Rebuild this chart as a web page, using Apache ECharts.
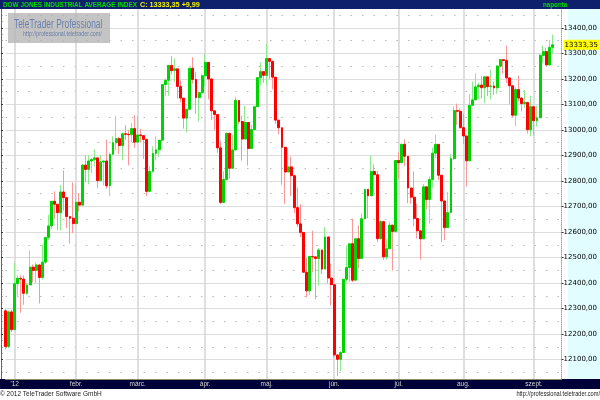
<!DOCTYPE html>
<html><head><meta charset="utf-8">
<script src="https://cdn.jsdelivr.net/npm/echarts@6/dist/echarts.min.js"></script>
<style>html,body{margin:0;padding:0;background:#fff}#c{width:600px;height:400px}</style>
</head><body><div id="c"></div>
<script>
const dates = [
'2011-12-28','2011-12-29','2011-12-30',
'2012-01-03','2012-01-04','2012-01-05','2012-01-06','2012-01-09','2012-01-10','2012-01-11','2012-01-12','2012-01-13','2012-01-17','2012-01-18','2012-01-19','2012-01-20','2012-01-23','2012-01-24','2012-01-25','2012-01-26','2012-01-27','2012-01-30','2012-01-31',
'2012-02-01','2012-02-02','2012-02-03','2012-02-06','2012-02-07','2012-02-08','2012-02-09','2012-02-10','2012-02-13','2012-02-14','2012-02-15','2012-02-16','2012-02-17','2012-02-21','2012-02-22','2012-02-23','2012-02-24','2012-02-27','2012-02-28','2012-02-29',
'2012-03-01','2012-03-02','2012-03-05','2012-03-06','2012-03-07','2012-03-08','2012-03-09','2012-03-12','2012-03-13','2012-03-14','2012-03-15','2012-03-16','2012-03-19','2012-03-20','2012-03-21','2012-03-22','2012-03-23','2012-03-26','2012-03-27','2012-03-28','2012-03-29','2012-03-30',
'2012-04-02','2012-04-03','2012-04-04','2012-04-05','2012-04-09','2012-04-10','2012-04-11','2012-04-12','2012-04-13','2012-04-16','2012-04-17','2012-04-18','2012-04-19','2012-04-20','2012-04-23','2012-04-24','2012-04-25','2012-04-26','2012-04-27','2012-04-30',
'2012-05-01','2012-05-02','2012-05-03','2012-05-04','2012-05-07','2012-05-08','2012-05-09','2012-05-10','2012-05-11','2012-05-14','2012-05-15','2012-05-16','2012-05-17','2012-05-18','2012-05-21','2012-05-22','2012-05-23','2012-05-24','2012-05-25','2012-05-29','2012-05-30','2012-05-31',
'2012-06-01','2012-06-04','2012-06-05','2012-06-06','2012-06-07','2012-06-08','2012-06-11','2012-06-12','2012-06-13','2012-06-14','2012-06-15','2012-06-18','2012-06-19','2012-06-20','2012-06-21','2012-06-22','2012-06-25','2012-06-26','2012-06-27','2012-06-28','2012-06-29',
'2012-07-02','2012-07-03','2012-07-05','2012-07-06','2012-07-09','2012-07-10','2012-07-11','2012-07-12','2012-07-13','2012-07-16','2012-07-17','2012-07-18','2012-07-19','2012-07-20','2012-07-23','2012-07-24','2012-07-25','2012-07-26','2012-07-27','2012-07-30','2012-07-31',
'2012-08-01','2012-08-02','2012-08-03','2012-08-06','2012-08-07','2012-08-08','2012-08-09','2012-08-10','2012-08-13','2012-08-14','2012-08-15','2012-08-16','2012-08-17','2012-08-20','2012-08-21','2012-08-22','2012-08-23','2012-08-24','2012-08-27','2012-08-28','2012-08-29','2012-08-30','2012-08-31',
'2012-09-04','2012-09-05','2012-09-06','2012-09-07','2012-09-10','2012-09-11','2012-09-12'
];
const opens = [
12291.35,12151.41,12287.04,
12217.56,12397.38,12418.42,12415.70,12359.92,12392.69,12462.47,12449.45,12471.02,12422.06,12482.07,12578.95,12623.98,12720.48,12708.82,12675.75,12756.96,12734.63,12660.46,12653.72,
12632.91,12716.46,12705.41,12862.23,12845.13,12878.20,12883.95,12890.46,12801.23,12874.04,12878.28,12780.95,12904.08,12949.87,12965.69,12938.67,12984.69,12982.95,12981.20,13005.12,
12952.07,12980.30,12977.57,12962.81,12759.15,12837.33,12907.94,12922.02,12959.71,13177.68,13194.10,13252.76,13232.62,13239.13,13170.19,13124.62,13046.14,13080.73,13241.63,13197.73,13126.21,13145.82,
13212.04,13264.49,13199.55,13074.75,13060.14,12929.59,12715.93,12805.39,12986.58,12849.59,12921.41,13115.54,13032.75,12964.10,13029.26,12927.17,13001.56,13090.72,13204.62,13228.31,
13213.63,13279.32,13268.57,13206.59,13038.27,13008.53,12932.09,12835.06,12855.04,12820.60,12695.35,12632.00,12598.55,12442.49,12369.38,12504.48,12502.81,12496.15,12529.75,12454.83,12580.69,12419.86,
12393.45,12118.57,12101.46,12127.95,12414.79,12460.96,12554.20,12411.23,12573.80,12496.38,12651.91,12767.17,12741.82,12837.33,12824.39,12573.57,12640.78,12502.66,12534.67,12627.01,12602.26,
12880.09,12871.39,12943.82,12896.67,12772.47,12736.29,12653.12,12604.53,12573.27,12777.09,12727.21,12805.54,12908.70,12943.36,12822.57,12721.46,12617.32,12676.05,12887.93,13075.66,13073.01,
13008.68,12976.13,12878.88,13096.17,13117.51,13168.60,13175.64,13165.19,13207.95,13169.43,13172.14,13164.78,13250.11,13275.20,13271.64,13203.58,13172.76,13057.46,13157.97,13124.67,13102.99,13107.48,13000.71,
13090.84,13035.94,13047.48,13292.00,13306.64,13254.29,13323.36
];
const closes = [
12151.41,12287.04,12217.56,
12397.38,12418.42,12415.70,12359.92,12392.69,12462.47,12449.45,12471.02,12422.06,12482.07,12578.95,12623.98,12720.48,12708.82,12675.75,12756.96,12734.63,12660.46,12653.72,12632.91,
12716.46,12705.41,12862.23,12845.13,12878.20,12883.95,12890.46,12801.23,12874.04,12878.28,12780.95,12904.08,12949.87,12965.69,12938.67,12984.69,12982.95,12981.20,13005.12,12952.07,
12980.30,12977.57,12962.81,12759.15,12837.33,12907.94,12922.02,12959.71,13177.68,13194.10,13252.76,13232.62,13239.13,13170.19,13124.62,13046.14,13080.73,13241.63,13197.73,13126.21,13145.82,13212.04,
13264.49,13199.55,13074.75,13060.14,12929.59,12715.93,12805.39,12986.58,12849.59,12921.41,13115.54,13032.75,12964.10,13029.26,12927.17,13001.56,13090.72,13204.62,13228.31,13213.63,
13279.32,13268.57,13206.59,13038.27,13008.53,12932.09,12835.06,12855.04,12820.60,12695.35,12632.00,12598.55,12442.49,12369.38,12504.48,12502.81,12496.15,12529.75,12454.83,12580.69,12419.86,12393.45,
12118.57,12101.46,12127.95,12414.79,12460.96,12554.20,12411.23,12573.80,12496.38,12651.91,12767.17,12741.82,12837.33,12824.39,12573.57,12640.78,12502.66,12534.67,12627.01,12602.26,12880.09,
12871.39,12943.82,12896.67,12772.47,12736.29,12653.12,12604.53,12573.27,12777.09,12727.21,12805.54,12908.70,12943.36,12822.57,12721.46,12617.32,12676.05,12887.93,13075.66,13073.01,13008.68,
12976.13,12878.88,13096.17,13117.51,13168.60,13175.64,13165.19,13207.95,13169.43,13172.14,13164.78,13250.11,13275.20,13271.64,13203.58,13172.76,13057.46,13157.97,13124.67,13102.99,13107.48,13000.71,13090.84,
13035.94,13047.48,13292.00,13306.64,13254.29,13323.36,13333.35
];
const lows = [
12140,12145,12208,
12217,12346,12284,12315,12354,12392,12403,12400,12320,12414,12475,12570,12611,12650,12608,12606,12683,12616,12555,12595,
12632,12680,12705,12795,12787,12830,12857,12772,12801,12782,12770,12740,12904,12920,12906,12881,12961,12861,12951,12930,
12952,12950,12886,12741,12759,12837,12880,12892,12945,13132,13134,13218,13188,13122,13108,13005,12990,13081,13181,13063,13032,13145,
13170,13120,13038,13000,12910,12710,12716,12805,12810,12850,12921,13022,12880,12964,12860,12927,13001,13090,13175,13185,
13175,13200,13159,13024,12983,12785,12710,12834,12741,12675,12620,12580,12442,12344,12353,12443,12336,12389,12435,12455,12399,12312,
12107,12035,12055,12128,12402,12405,12403,12411,12458,12496,12652,12654,12742,12754,12560,12574,12490,12492,12533,12449,12602,
12809,12871,12858,12713,12711,12622,12575,12492,12573,12689,12633,12773,12890,12804,12560,12568,12617,12676,12882,13020,13005,
12944,12778,12880,13096,13117,13120,13124,13105,13133,13120,13137,13142,13242,13221,13183,13100,13050,13015,13111,13072,13086,12986,12975,
12978,13013,13047,13262,13253,13254,13300
];
const highs = [
12300,12292,12295,
12479,12430,12430,12430,12400,12528,12473,12480,12472,12551,12580,12667,12720,12759,12708,12784,12841,12735,12660,12794,
12784,12753,12866,12900,12900,12890,12924,12890,12902,12880,12962,12911,12975,13055,12973,12990,13018,13000,13026,13058,
13054,13004,12978,12963,12857,12936,12974,12960,13178,13202,13253,13289,13280,13239,13194,13125,13081,13242,13285,13226,13150,13220,
13297,13265,13200,13075,13060,12955,12838,12990,12987,12980,13130,13116,13056,13094,13029,13020,13092,13205,13265,13228,
13339,13280,13269,13207,13038,13008,12932,12929,12895,12820,12774,12710,12599,12497,12505,12605,12503,12537,12530,12619,12581,12477,
12393,12120,12134,12415,12548,12554,12652,12574,12627,12673,12767,12768,12899,12865,12840,12646,12641,12572,12640,12627,12880,
12912,12943,12963,12897,12772,12837,12711,12605,12788,12777,12818,12930,12980,12943,12822,12722,12757,12906,13091,13103,13084,
13063,12977,13140,13189,13222,13185,13211,13208,13208,13236,13189,13254,13278,13276,13330,13205,13175,13167,13212,13128,13156,13108,13134,
13091,13095,13301,13330,13320,13353,13373
];
const monthLabels = ["'12", 'febr.', 'márc.', 'ápr.', 'máj.', 'jún.', 'júl.', 'aug.', 'szept.'];
const yMin = 12000, yMax = 13500, yStep = 100;

const cats = dates.concat(['', '', '']);
const isMonthStart = i => i > 0 && i < dates.length && dates[i].slice(5, 7) !== dates[i - 1].slice(5, 7);
const fmt = v => v.toFixed(2).replace('.', ',');
const lastClose = closes[closes.length - 1];
const change = lastClose - closes[closes.length - 2];

const wickData = dates.map((d, i) => [opens[i], closes[i], lows[i], highs[i]]);
const bodyData = dates.map((d, i) => [opens[i], closes[i], Math.min(opens[i], closes[i]), Math.max(opens[i], closes[i])]);

const chart = echarts.init(document.getElementById('c'));
chart.setOption({
  animation: false,
  backgroundColor: '#ffffff',
  grid: { left: 5.5, right: 31, top: 2.24, bottom: 14.8 },
  xAxis: [
    { type: 'category', data: cats, boundaryGap: false, z: 0,
      axisLine: { show: false }, axisTick: { show: false }, axisLabel: { show: false },
      splitLine: { show: true, interval: (i) => isMonthStart(i), lineStyle: { color: '#d4d4d4', width: 1.5 } } },
    { type: 'category', data: cats, boundaryGap: false, position: 'bottom', offset: -6, z: 20,
      axisLine: { show: true, lineStyle: { color: '#8c8c66', width: 1 } }, axisTick: { show: false },
      splitLine: { show: false },
      axisLabel: { show: true, interval: (i) => isMonthStart(i), margin: 2, color: '#d4d4d4', fontSize: 6.5,
        fontFamily: 'Liberation Sans', formatter: (v) => v ? monthLabels[parseInt(v.slice(5, 7), 10) - 1] : '' } }
  ],
  yAxis: [
    { type: 'value', min: yMin, max: yMax, interval: yStep, position: 'right', z: 0,
      axisLine: { show: false }, axisTick: { show: false }, axisLabel: { show: false },
      splitLine: { show: true, showMinLine: false, showMaxLine: false, lineStyle: { color: '#dcdcdc', width: 1 } },
      minorTick: { show: false, splitNumber: 2 },
      minorSplitLine: { show: true, lineStyle: { color: '#b8b8b8', width: 1, type: [1.5, 10] } } },
    { type: 'value', min: yMin, max: yMax, interval: yStep, position: 'right', z: 5,
      axisLine: { show: true, lineStyle: { color: '#c8b400', type: 'dotted' } },
      axisTick: { show: true, length: 2, lineStyle: { color: '#333' } },
      splitLine: { show: false },
      axisLabel: { show: true, showMinLabel: false, showMaxLabel: false, margin: 2, color: '#000',
        fontSize: 7, fontFamily: 'DejaVu Sans', formatter: (v) => fmt(v) } },
    { type: 'value', min: yMin, max: yMax, interval: yStep, position: 'left', offset: 4.5, z: 5,
      axisLine: { show: true, lineStyle: { color: '#666' } },
      axisTick: { show: true, inside: true, length: 2, lineStyle: { color: '#333' } },
      minorTick: { show: true, splitNumber: 4, length: 1.5, lineStyle: { color: '#666' } },
      axisLabel: { show: false }, splitLine: { show: false } }
  ],
  series: [
    { type: 'candlestick', xAxisIndex: 0, yAxisIndex: 0, data: wickData, barWidth: 1, clip: false, silent: true,
      itemStyle: { color: '#8ee88e', color0: '#ff9696', borderColor: '#8ee88e', borderColor0: '#ff9696', borderWidth: 1 } },
    { type: 'candlestick', xAxisIndex: 0, yAxisIndex: 0, data: bodyData, barWidth: 2.4, clip: false, silent: true,
      itemStyle: { color: '#00d400', color0: '#ff0000', borderColor: '#00d400', borderColor0: '#ff0000', borderWidth: 1 },
      markLine: { silent: true, symbol: ['none', 'none'], animation: false,
        lineStyle: { color: 'rgba(0,0,0,0)', width: 1 },
        label: { show: true, position: 'end', distance: 2, formatter: fmt(lastClose), color: '#000',
          backgroundColor: '#ffff00', fontSize: 7, fontFamily: 'DejaVu Sans', padding: [2, 2, 1, 1] },
        data: [{ yAxis: lastClose }] } }
  ],
  graphic: [
    { type: 'rect', z: 1, silent: true, shape: { x: 568, y: 9, width: 32, height: 370 }, style: { fill: '#e2fdff' } },
    { type: 'rect', z: 10, silent: true, shape: { x: 0, y: 0, width: 600, height: 9 }, style: { fill: '#0e206c' } },
    { type: 'rect', z: 10, silent: true, shape: { x: 0, y: 379, width: 600, height: 10 }, style: { fill: '#000038' } },
    { type: 'text', z: 11, x: 3, y: 0.5, scaleX: 0.8, silent: true,
      style: { text: 'DOW JONES INDUSTRIAL AVERAGE INDEX', fill: '#00dc00', font: 'bold 8px "Liberation Sans"', verticalAlign: 'top' } },
    { type: 'text', z: 11, x: 140, y: 0.5, scaleX: 0.9, silent: true,
      style: { text: 'C: ' + fmt(lastClose) + ' +' + fmt(change), fill: '#f0f000', font: 'bold 8px "Liberation Sans"', verticalAlign: 'top' } },
    { type: 'text', z: 11, x: 543, y: 0.5, scaleX: 0.78, silent: true,
      style: { text: 'naponta', fill: '#00dc00', font: 'bold 8px "Liberation Sans"', verticalAlign: 'top' } },
    { type: 'rect', z: 10, silent: true, shape: { x: 8, y: 13, width: 102, height: 30 }, style: { fill: 'rgba(180,180,180,0.78)' } },
    { type: 'text', z: 11, x: 14, y: 24.5, scaleX: 0.7, silent: true,
      style: { text: 'TeleTrader Professional', fill: '#6a80aa', font: '12px "Liberation Sans"', verticalAlign: 'middle' } },
    { type: 'text', z: 11, x: 23, y: 34.5, scaleX: 0.76, silent: true,
      style: { text: 'http://professional.teletrader.com/', fill: '#6a80aa', font: '7px "Liberation Sans"', verticalAlign: 'middle' } },
    { type: 'text', z: 11, x: 0, y: 394.5, silent: true,
      style: { text: '© 2012 TeleTrader Software GmbH', fill: '#222', font: '6.5px "Liberation Sans"', verticalAlign: 'middle' } },
    { type: 'text', z: 11, x: 600, y: 394.5, scaleX: 0.87, silent: true,
      style: { text: 'http://professional.teletrader.com/', fill: '#222', font: '6.5px "Liberation Sans"', align: 'right', verticalAlign: 'middle' } }
  ]
});
</script>
</body></html>
